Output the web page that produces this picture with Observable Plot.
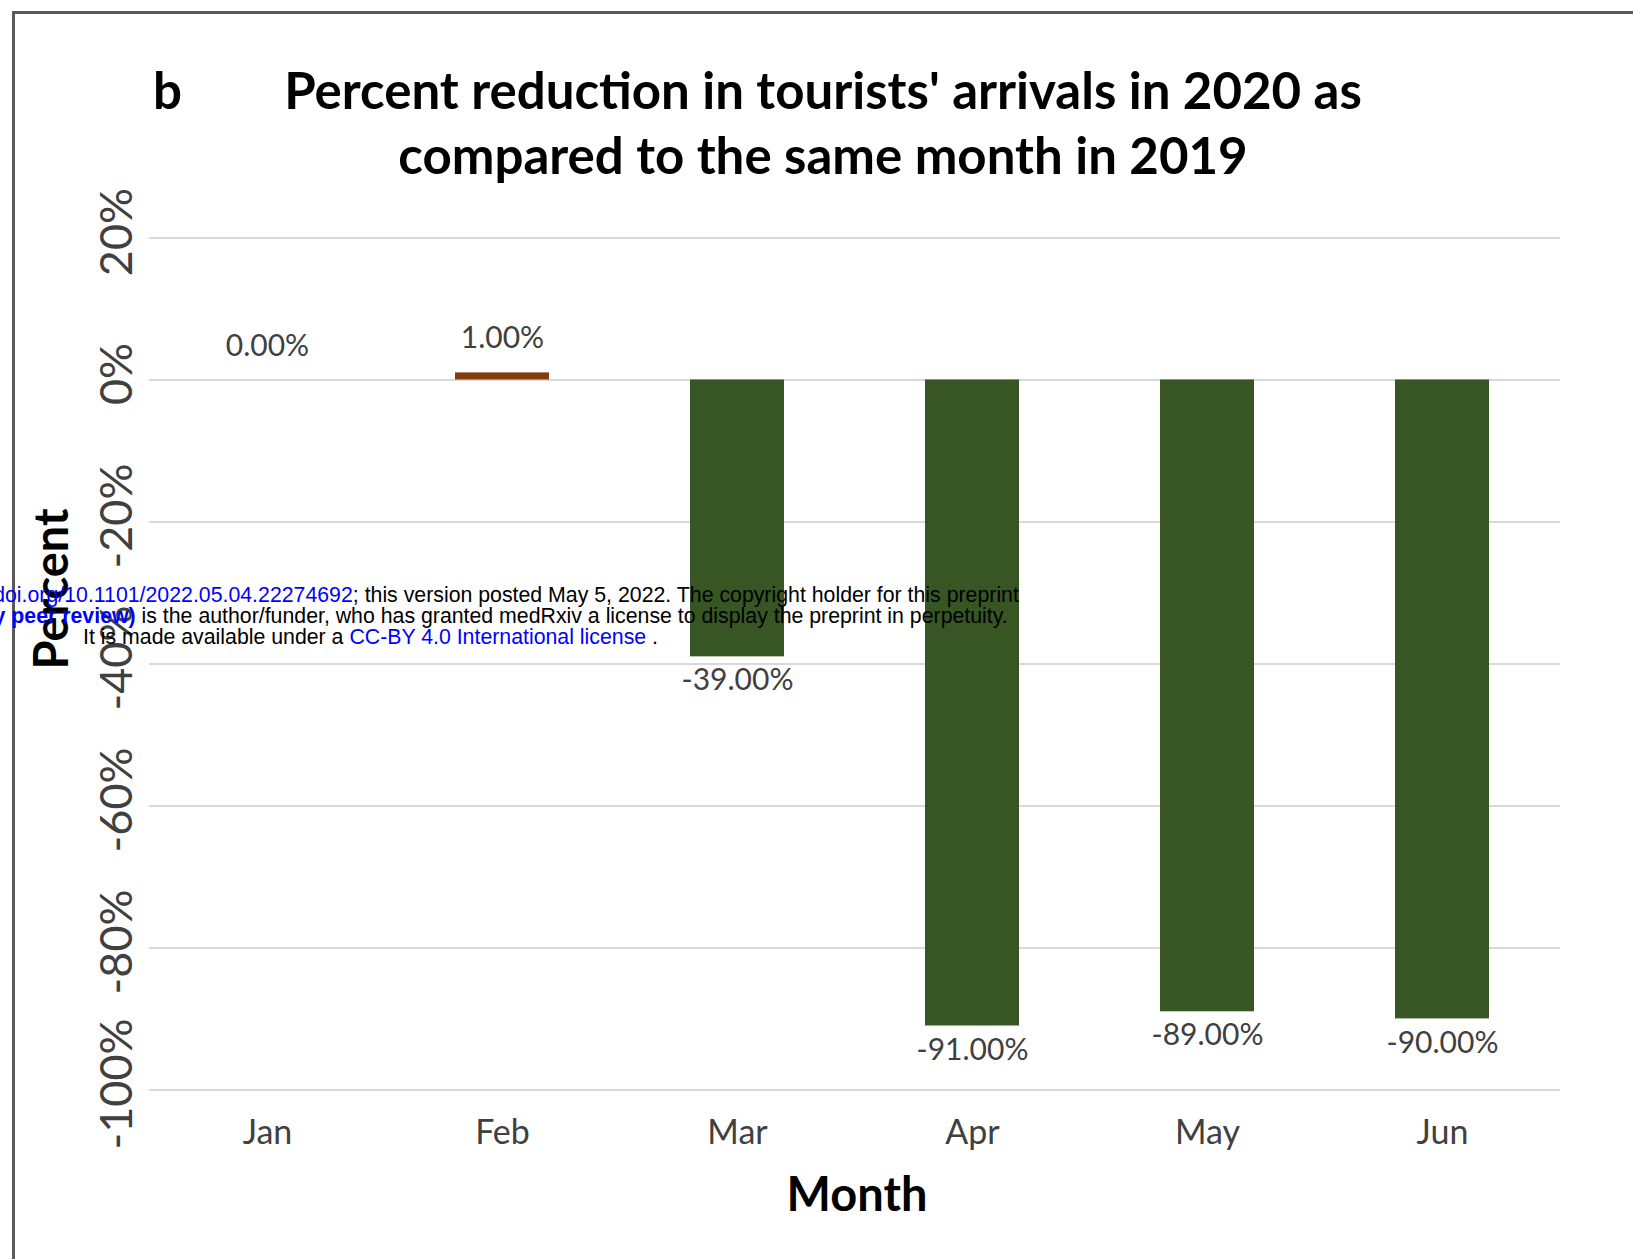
<!DOCTYPE html>
<html>
<head>
<meta charset="utf-8">
<script src="https://cdn.jsdelivr.net/npm/d3@7"></script>
<script src="https://cdn.jsdelivr.net/npm/@observablehq/plot@0.6"></script>
<style>
  html, body { margin: 0; padding: 0; background: #fff; }
  body { width: 1633px; height: 1259px; position: relative; overflow: hidden; }
  #frame { position: absolute; left: 12px; top: 11px; width: 1800px; height: 1400px;
           border-top: 3px solid #5a5a5a; border-left: 3px solid #5a5a5a; }
  #chart { position: absolute; left: 0; top: 0; }
  .title { position: absolute; font-family: Lato, sans-serif; font-weight: bold; color: #000;
           font-size: 51px; line-height: 65px; white-space: nowrap; }
  #title { left: 823px; top: 57px; transform: translateX(-50%); text-align: center; }
  #panel { left: 153px; top: 57px; }
  #wm { position: absolute; left: -429.5px; top: 585px; width: 1600px; text-align: center;
        font-family: "Liberation Sans", Arial, sans-serif; font-size: 21.3px; line-height: 21px;
        color: #000; white-space: nowrap; }
  #wm .l { color: #0000ff; }
  #wm .b { color: #0000ff; font-weight: bold; }
</style>
</head>
<body>
<div id="frame"></div>
<div id="chart"></div>
<div class="title" id="panel">b</div>
<div class="title" id="title">Percent reduction in tourists' arrivals in 2020 as<br>compared to the same month in 2019</div>
<div id="wm">
  <div>medRxiv preprint doi: <span class="l">https://doi.org/10.1101/2022.05.04.22274692</span>; this version posted May 5, 2022. The copyright holder for this preprint</div>
  <div><span class="b">(which was not certified by peer review)</span> is the author/funder, who has granted medRxiv a license to display the preprint in perpetuity.</div>
  <div>It is made available under a <span class="l">CC-BY 4.0 International license</span> .</div>
</div>
<script>
const months = ["Jan", "Feb", "Mar", "Apr", "May", "Jun"];
const values = [0, 1, -39, -91, -89, -90];
const yTicks = [20, 0, -20, -40, -60, -80, -100];

const data = months.map((m, i) => ({month: m, value: values[i]}));
const green = "#375623";
const brown = "#843C0C";
const labelColor = "#404040";
const fmt = v => v.toFixed(2) + "%";

const chart = Plot.plot({
  width: 1633,
  height: 1259,
  marginTop: 237.5,
  marginBottom: 169.6,
  marginLeft: 149,
  marginRight: 73,
  style: {fontFamily: "Lato, sans-serif", background: "transparent", overflow: "visible"},
  x: {domain: months, paddingInner: 0.6, paddingOuter: 0.3},
  y: {domain: [-100, 20], nice: false},
  marks: [
    Plot.gridY(yTicks, {stroke: "#d9d9d9", strokeOpacity: 1, strokeWidth: 2}),
    Plot.barY(data, {x: "month", y: "value", fill: d => d.value > 0 ? brown : green}),
    Plot.text(data.filter(d => d.value >= 0), {x: "month", y: "value", text: d => fmt(d.value),
      dy: -34, lineAnchor: "middle", fontSize: 30, fill: labelColor}),
    Plot.text(data.filter(d => d.value < 0), {x: "month", y: "value", text: d => fmt(d.value),
      dy: 24, lineAnchor: "middle", fontSize: 30, fill: labelColor}),
    Plot.axisY({ticks: yTicks, tickFormat: d => d + "%", tickRotate: -90, tickSize: 0, tickPadding: 32,
      textAnchor: "middle", lineAnchor: "middle", dy: -6, fontSize: 45, fill: labelColor, label: null}),
    Plot.axisX({tickSize: 0, tickPadding: 43, lineAnchor: "middle", fontSize: 34, fill: labelColor, label: null}),
    Plot.text(["Month"], {frameAnchor: "bottom", dx: 2, dy: 106, lineAnchor: "middle",
      fontSize: 47, fontWeight: "bold", fill: "#000"}),
    Plot.text(["Percent"], {frameAnchor: "left", dx: -97, dy: -75, rotate: -90, lineAnchor: "middle",
      textAnchor: "middle", fontSize: 47, fontWeight: "bold", fill: "#000"})
  ]
});
document.getElementById("chart").appendChild(chart);
</script>
</body>
</html>
